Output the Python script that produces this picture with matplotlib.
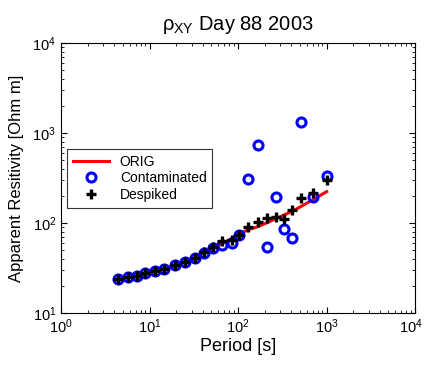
import matplotlib
matplotlib.use("Agg")
import matplotlib.pyplot as plt
import matplotlib.transforms as mtransforms
from matplotlib.ticker import LogLocator, NullFormatter

plt.rcParams['font.family'] = ['Liberation Sans', 'DejaVu Sans']
plt.rcParams['mathtext.fontset'] = 'custom'
plt.rcParams['mathtext.rm'] = 'Liberation Sans'
plt.rcParams['mathtext.it'] = 'Liberation Sans'

period = [4.44, 5.67, 7.16, 8.97, 11.5, 14.7, 19.4, 25.2, 32.7, 41.6, 52.6, 66.5,
          84.8, 102.6, 128.6, 166.6, 214, 269, 333, 404, 511, 710, 1004]
orig = [23.7, 24.9, 25.8, 27.6, 29.5, 30.6, 34.1, 37.2, 41.1, 46.5, 52.5, 59.5,
        67.0, 75.0, 83.6, 91.0, 101, 112, 123, 134, 152, 183, 223]
contaminated = [23.7, 24.9, 25.8, 27.6, 29.5, 30.6, 34.1, 37.2, 41.1, 47.0, 53.0, 57.0,
                60.0, 73.6, 308, 736, 53.7, 196, 85, 69, 1316, 196, 333]
despiked = [23.7, 24.9, 25.8, 27.6, 29.5, 30.6, 34.1, 37.2, 41.1, 48.0, 54.6, 63.1,
            64.7, 73.6, 91.1, 103.5, 112.8, 117.5, 110, 139, 188, 217, 300]

fig = plt.figure(figsize=(4.24, 3.65), dpi=100)
ax = fig.add_axes([61/424, 1-313/365, (415-61)/424, (313-43)/365])

ax.plot(period, orig, color='#ff0000', lw=2.2, label='ORIG', zorder=2)
ax.plot(period, contaminated, 'o', ms=6.5, mfc='none', mec='#0000ff', mew=2.2,
        label='Contaminated', zorder=3)
ax.plot(period, despiked, '+', ms=7, color='black', mew=2.4, label='Despiked', zorder=4)

ax.set_xscale('log')
ax.set_yscale('log')
ax.set_xlim(1, 1e4)
ax.set_ylim(10, 1e4)
ax.xaxis.set_major_locator(LogLocator(base=10, numticks=10))
ax.yaxis.set_major_locator(LogLocator(base=10, numticks=10))
ax.xaxis.set_minor_locator(LogLocator(base=10, subs=range(2, 10), numticks=20))
ax.yaxis.set_minor_locator(LogLocator(base=10, subs=range(2, 10), numticks=20))
ax.xaxis.set_minor_formatter(NullFormatter())
ax.yaxis.set_minor_formatter(NullFormatter())
ax.tick_params(which='both', direction='in', top=True, right=True, labelsize=10.5)
ax.tick_params(which='major', length=4, width=0.8)
ax.tick_params(which='minor', length=2, width=0.6)

ax.set_xlabel('Period [s]', fontsize=13, labelpad=1)
ax.set_ylabel('Apparent Resitivity [Ohm m]', fontsize=12, labelpad=6)
ax.set_title(r'$\rho_{XY}$ Day 88 2003', fontsize=14.5, pad=9)

leg = ax.legend(loc='upper left', bbox_to_anchor=(6/354, (313-149)/270), fontsize=10,
                frameon=True, fancybox=False, edgecolor='black', borderaxespad=0,
                handlelength=2.6, borderpad=0.4, labelspacing=0.2)
leg.get_frame().set_linewidth(0.8)

fig.canvas.draw()
last = ax.get_xticklabels()[-1]
for lab in ax.get_xticklabels():
    if lab.get_position()[0] == 1e4:
        lab.set_transform(lab.get_transform() +
                          mtransforms.ScaledTranslation(-4/100, 0, fig.dpi_scale_trans))

fig.savefig('out.png', dpi=100)
